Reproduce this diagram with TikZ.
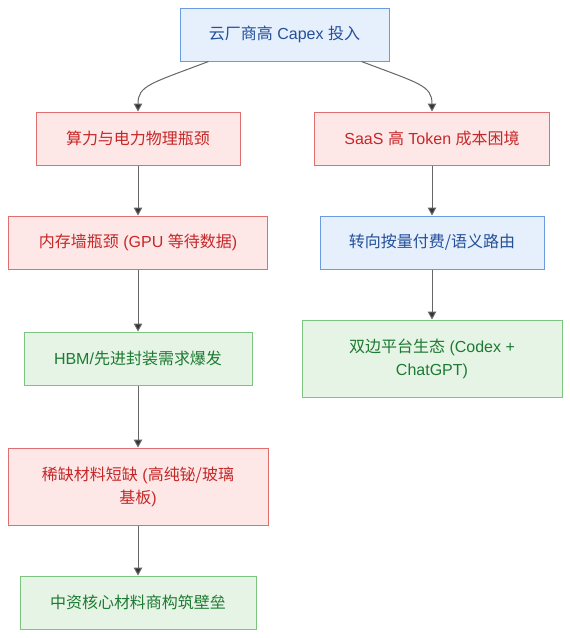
\documentclass[tikz,border=0pt]{standalone}
\usepackage{fontspec}
\setmainfont{Liberation Sans}
\newfontfamily\cjk{Noto Sans CJK SC}
\usetikzlibrary{calc,arrows.meta}
\definecolor{redfill}{HTML}{FDE7E7}
\definecolor{redline}{HTML}{E07070}
\definecolor{redtext}{HTML}{C62828}
\definecolor{greenfill}{HTML}{E6F4E6}
\definecolor{greenline}{HTML}{7CC47F}
\definecolor{greentext}{HTML}{1E7A32}
\definecolor{bluefill}{HTML}{E6EFFC}
\definecolor{blueline}{HTML}{6A9BE0}
\definecolor{bluetext}{HTML}{24509A}
\tikzset{
  box/.style={draw, rectangle, line width=1pt, inner sep=0pt, align=center,
    font=\fontsize{16}{23}\selectfont},
  redbox/.style={box, fill=redfill, draw=redline, text=redtext},
  greenbox/.style={box, fill=greenfill, draw=greenline, text=greentext},
  bluebox/.style={box, fill=bluefill, draw=blueline, text=bluetext},
  arr/.style={draw=black!60, line width=1pt, -{Triangle[length=8pt,width=8.5pt,fill=black!80]}}
}
\begin{document}
\begin{tikzpicture}[x=1pt,y=-1pt]
\useasboundingbox[fill=white] (0,0) rectangle (570,638);
\node[bluebox, minimum width=209pt, minimum height=53pt] (top) at (284.5,34.5) {{\cjk 云厂商高} Capex {\cjk 投入}};
\node[redbox, minimum width=204pt, minimum height=53pt] (suan) at (138,138.5) {\cjk 算力与电力物理瓶颈};
\node[redbox, minimum width=235pt, minimum height=53pt] (saas) at (432,138.5) {SaaS {\cjk 高} Token {\cjk 成本困境}};
\node[redbox, minimum width=259pt, minimum height=53pt] (mem) at (138,242.5) {{\cjk 内存墙瓶颈} (GPU {\cjk 等待数据})};
\node[bluebox, minimum width=224pt, minimum height=53pt] (route) at (432,242.5) {\cjk 转向按量付费/语义路由};
\node[greenbox, minimum width=228pt, minimum height=53pt] (hbm) at (138,358.5) {HBM/{\cjk 先进封装需求爆发}};
\node[greenbox, minimum width=260pt, minimum height=77pt] (plat) at (432,358.5) {{\cjk 双边平台生态} (Codex +\\ChatGPT)};
\node[redbox, minimum width=260pt, minimum height=77pt] (scarce) at (138,486.5) {{\cjk 稀缺材料短缺} ({\cjk 高纯铋/玻璃}\\{\cjk 基板})};
\node[greenbox, minimum width=236pt, minimum height=53pt] (china) at (138,602.5) {\cjk 中资核心材料商构筑壁垒};
\draw[arr] ($(top.south)+(-76,0)$) .. controls +(-58,22) and +(0,-26) .. (suan.north);
\draw[arr] ($(top.south)+(77,0)$) .. controls +(58,22) and +(0,-26) .. (saas.north);
\draw[arr] (suan.south) -- (mem.north);
\draw[arr] (mem.south) -- (hbm.north);
\draw[arr] (hbm.south) -- (scarce.north);
\draw[arr] (scarce.south) -- (china.north);
\draw[arr] (saas.south) -- (route.north);
\draw[arr] (route.south) -- (plat.north);
\end{tikzpicture}
\end{document}
